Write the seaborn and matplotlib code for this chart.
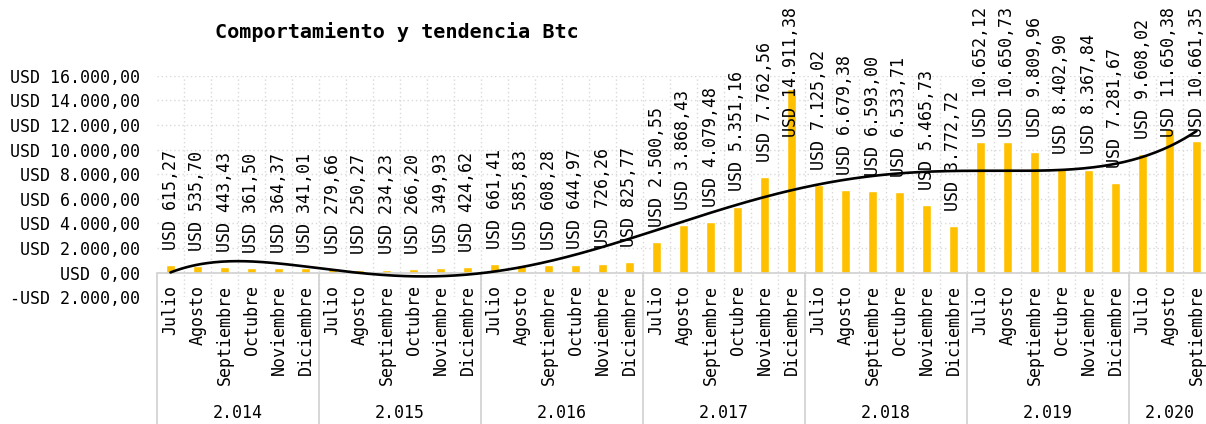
import numpy as np
import pandas as pd
import matplotlib
matplotlib.use("Agg")
import matplotlib.pyplot as plt
import matplotlib.transforms as mtransforms
import seaborn as sns

months = ["Julio", "Agosto", "Septiembre", "Octubre", "Noviembre", "Diciembre"]
years = ["2.014", "2.015", "2.016", "2.017", "2.018", "2.019", "2.020"]
months_per_year = [6, 6, 6, 6, 6, 6, 3]

v2014 = [615.27, 535.70, 443.43, 361.50, 364.37, 341.01]
v2015 = [279.66, 250.27, 234.23, 266.20, 349.93, 424.62]
v2016 = [661.41, 585.83, 608.28, 644.97, 726.26, 825.77]
v2017 = [2500.55, 3868.43, 4079.48, 5351.16, 7762.56, 14911.38]
v2018 = [7125.02, 6679.38, 6593.00, 6533.71, 5465.73, 3772.72]
v2019 = [10652.12, 10650.73, 9809.96, 8402.90, 8367.84, 7281.67]
v2020 = [9608.02, 11650.38, 10661.35]

yticks = [-2000, 0, 2000, 4000, 6000, 8000, 10000, 12000, 14000, 16000]

values = v2014 + v2015 + v2016 + v2017 + v2018 + v2019 + v2020
month_labels = []
year_col = []
for y, n in zip(years, months_per_year):
    month_labels += months[:n]
    year_col += [y] * n
df = pd.DataFrame({"pos": [f"{i:02d}" for i in range(len(values))],
                   "mes": month_labels, "anio": year_col, "valor": values})


def fmt_usd(v):
    s = f"{abs(v):,.2f}".replace(",", "X").replace(".", ",").replace("X", ".")
    return ("-" if v < 0 else "") + "USD " + s


sns.set_theme(style="white")
plt.rcParams["font.family"] = ["DejaVu Sans Mono", "DejaVu Sans"]
plt.rcParams["xtick.labelsize"] = 12
plt.rcParams["ytick.labelsize"] = 12

W, H = 1206, 424
fig = plt.figure(figsize=(W / 100, H / 100), dpi=100)
n = len(values)
px_per_cat = 27.0
ax = fig.add_axes([157 / W, 1 - 297.2 / H, n * px_per_cat / W, (297.2 - 75.7) / H])

sns.barplot(data=df, x="pos", y="valor", color="#FFC000", saturation=1,
            width=0.34, ax=ax, zorder=2)

# polynomial trend (order 6), as in the spreadsheet trendline
xs = np.arange(1, n + 1)
coef = np.polyfit(xs, values, 6)
xf = np.linspace(1, n, 400)
ax.plot(xf - 1, np.polyval(coef, xf), color="black", lw=1.9, zorder=4)

ax.set_xlim(-0.5, n - 0.5)
ax.set_ylim(-2000, 16000)
ax.set_yticks(yticks)
ax.set_yticklabels([fmt_usd(v) for v in yticks])
ax.set_xticks(range(n))
ax.set_xticklabels(month_labels)
ax.tick_params(axis="both", length=0, colors="black", labelsize=12)
ax.tick_params(axis="y", pad=12)
ax.tick_params(axis="x", pad=9, labelrotation=90)
for lab in ax.get_xticklabels():
    lab.set_rotation(90)
    lab.set_va("top")
    lab.set_ha("center")
    lab.set_fontsize(12)
ax.set_xlabel("")
ax.set_ylabel("")

for s in ["top", "right", "left"]:
    ax.spines[s].set_visible(False)
ax.spines["bottom"].set_position(("data", 0))
ax.spines["bottom"].set_color("#D0D0D0")
ax.spines["bottom"].set_linewidth(1.2)
ax.spines["bottom"].set_zorder(3)

# dotted gridlines
for yv in yticks:
    if yv != 0:
        ax.axhline(yv, color="#D9D9D9", lw=1, ls=(0, (1, 2)), zorder=0)
for i in range(n):
    ax.axvline(i + 0.5, color="#D9D9D9", lw=1, ls=(0, (1, 2)), zorder=0)

# multi-level category axis: group separators and year labels
btrans = mtransforms.blended_transform_factory(ax.transData, fig.transFigure)
top_f = 1 - 273.5 / H
start = 0
bounds = [-0.5]
for y, cnt in zip(years, months_per_year):
    centre = start + (cnt - 1) / 2
    ax.text(centre, 1 - 413 / H, y, transform=btrans, ha="center", va="center",
            fontsize=12, color="black", clip_on=False)
    start += cnt
    bounds.append(start - 0.5)
for b in bounds:
    ax.plot([b, b], [top_f, 0], transform=btrans, color="#D0D0D0", lw=1.2,
            clip_on=False, zorder=3)

# data labels, outside end; pushed down when they would leave the chart
texts = []
for i, v in enumerate(values):
    t = ax.annotate(fmt_usd(v), (i, v), xytext=(0, 11), textcoords="offset points",
                    rotation=90, ha="center", va="bottom", fontsize=12,
                    color="black", annotation_clip=False, zorder=5)
    texts.append(t)
fig.canvas.draw()
renderer = fig.canvas.get_renderer()
for t in texts:
    bb = t.get_window_extent(renderer)
    limit = H - 7
    if bb.y1 > limit:
        dy = (bb.y1 - limit) * 72 / fig.dpi
        ox, oy = t.xyann
        t.xyann = (ox, oy - dy)

fig.text(215 / W, 1 - 32 / H, "Comportamiento y tendencia Btc", fontsize=14.5,
         fontweight="bold", ha="left", va="center", color="black")

fig.savefig("out.png", dpi=100)
